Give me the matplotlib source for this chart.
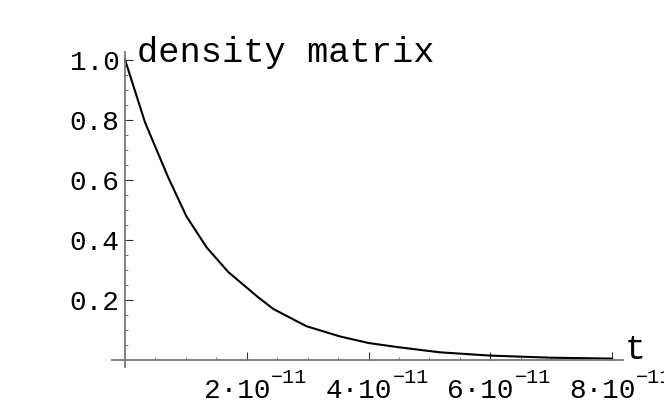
import matplotlib
matplotlib.use("Agg")
import matplotlib.pyplot as plt

# time in units of 1e-11 s, value of the density matrix element
t = [0, 0.33, 0.71, 1.01, 1.34, 1.70, 2.19, 2.44, 2.98, 3.53, 4.0, 4.49, 5.17,
     6.0, 7.0, 8.0]
rho = [1.0, 0.79, 0.607, 0.477, 0.374, 0.291, 0.207, 0.168, 0.111, 0.077, 0.055,
       0.041, 0.024, 0.013, 0.006, 0.003]

x_major = [2, 4, 6, 8]
x_labels = ['2·10', '4·10', '6·10', '8·10']
x_exp = '\u221211'
x_minor = [0.5, 1, 1.5, 2.5, 3, 3.5, 4.5, 5, 5.5, 6.5, 7, 7.5]
y_major = [0.2, 0.4, 0.6, 0.8, 1.0]
y_labels = ['0.2', '0.4', '0.6', '0.8', '1.0']
y_minor = [0.05, 0.1, 0.15, 0.25, 0.3, 0.35, 0.45, 0.5, 0.55, 0.65, 0.7, 0.75,
           0.85, 0.9, 0.95]

plt.rcParams['font.family'] = ['Liberation Mono', 'DejaVu Sans Mono']

fig = plt.figure(figsize=(6.64, 4.06), dpi=100)
ax = fig.add_axes([112 / 664, 1 - 368 / 406, 511 / 664, 315 / 406])

ax.plot(t, rho, color='black', linewidth=1.5)

ax.set_xlim(-0.213, 8.18)
ax.set_ylim(-0.025, 1.025)

for s in ['top', 'right']:
    ax.spines[s].set_visible(False)
ax.spines['left'].set_position(('data', 0))
ax.spines['bottom'].set_position(('data', 0))
for s in ['left', 'bottom']:
    ax.spines[s].set_color('#777777')
    ax.spines[s].set_linewidth(1.3)

ax.set_xticks(x_major)
ax.set_xticks(x_minor, minor=True)
ax.set_yticks(y_major)
ax.set_yticklabels(y_labels)
ax.set_yticks(y_minor, minor=True)

ax.tick_params(which='major', direction='in', length=6, width=0.8,
               color='#333333')
ax.tick_params(which='minor', direction='in', length=2.5, width=0.6,
               color='#555555')
ax.tick_params(axis='x', labelbottom=False)
ax.tick_params(axis='y', which='major', pad=4, labelsize=20)

# x tick labels in Mathematica style: mantissa plus raised exponent
for xv, lab in zip(x_major, x_labels):
    ax.annotate(lab, xy=(xv, 0), xycoords='data', xytext=(-7, -27),
                textcoords='offset points', fontsize=20, ha='center',
                va='baseline', annotation_clip=False)
    ax.annotate(x_exp, xy=(xv, 0), xycoords='data', xytext=(17.5, -16.5),
                textcoords='offset points', fontsize=14.5, ha='left',
                va='baseline', annotation_clip=False)

ax.text(0.2, 0.995, 'density matrix', fontsize=25.5, ha='left', va='baseline')
ax.text(8.21, 0.004, 't', fontsize=25, ha='left', va='baseline', clip_on=False)

fig.savefig('out.png', dpi=100)
